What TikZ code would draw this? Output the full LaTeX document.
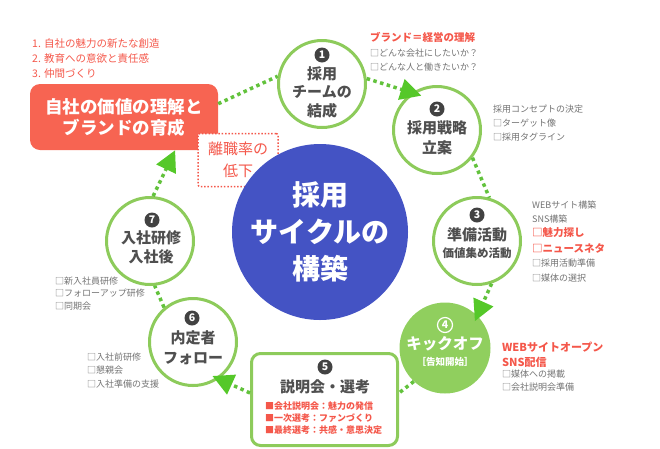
\documentclass[tikz,border=0pt]{standalone}
\usepackage{fontspec}
\setmainfont{Noto Sans CJK JP}
\usetikzlibrary{arrows.meta}
\definecolor{titlered}{HTML}{F76452}
\definecolor{textred}{HTML}{F4574A}
\definecolor{cycleblue}{HTML}{4453C4}
\definecolor{ringgreen}{HTML}{8DCB5B}
\definecolor{kickgreen}{HTML}{90CF5E}
\definecolor{dotgreen}{HTML}{62C23C}
\definecolor{arrowgreen}{HTML}{55C829}
\definecolor{labelgray}{HTML}{4F4F4F}
\definecolor{notegray}{HTML}{737373}
\definecolor{badgegray}{HTML}{424242}
\begin{document}
\begin{tikzpicture}[x=1pt, y=-1pt,
stage/.style={circle, draw=ringgreen, line width=3pt, minimum size=87pt, inner sep=0pt},
kickoff/.style={circle, fill=kickgreen, minimum size=91pt, inner sep=0pt},
stagebox/.style={rectangle, rounded corners=9pt, draw=ringgreen, line width=3pt, minimum width=146pt, minimum height=92pt},
stagetext/.style={align=center, inner sep=0pt, text=labelgray, font=\bfseries\fontsize{15}{20}\selectfont},
badge/.style={circle, fill=badgegray, text=white, inner sep=0pt, minimum size=15pt, font=\bfseries\fontsize{10.5}{10.5}\selectfont},
note/.style={anchor=base west, align=left, inner sep=0pt, text=notegray, font=\fontsize{9}{14}\selectfont},
notered/.style={note, text=textred, font=\bfseries\fontsize{10.5}{16}\selectfont},
link/.style={draw=dotgreen, line width=3.5pt, dash pattern=on 3.5pt off 3.5pt},
linkarrow/.style={link, -{Triangle[length=21pt, width=21pt, fill=arrowgreen, color=arrowgreen]}},
]
\useasboundingbox (0,0) rectangle (660,448);
\node[note, text=textred, font=\fontsize{10.5}{15}\selectfont] (goals) at (32,77.8) {1. 自社の魅力の新たな創造\\2. 教育への意欲と責任感\\3. 仲間づくり};
\node[rectangle, rounded corners=10pt, fill=titlered, minimum width=188pt, minimum height=66pt, align=center, text=white, font=\bfseries\fontsize{17.5}{21}\selectfont] (T) at (124,117) {自社の価値の理解と\\ブランドの育成};
\node[rectangle, rounded corners=2pt, fill=white, draw=textred, line width=1.5pt, dash pattern=on 1.5pt off 1.8pt, minimum width=80pt, minimum height=53pt, align=center, text=textred, font=\fontsize{15}{22}\selectfont] (R) at (238,160) {離職率の\\低下};
\node[circle, fill=cycleblue, minimum size=176pt, inner sep=0pt, align=center, text=white, font=\bfseries\fontsize{28}{37}\selectfont] (C) at (320,232) {採用\\サイクルの\\構築};

\node[stage] (S1) at (322,84) {};
\node[badge] (B1) at (322,55) {1};
\node[stagetext, font=\bfseries\fontsize{15}{18.5}\selectfont] (L1) at (322,92) {採用\\チームの\\結成};
\node[notered] (N1a) at (370,41.8) {ブランド＝経営の理解};
\node[note] (N1b) at (370,70.2) {□どんな会社にしたいか？\\□どんな人と働きたいか？};

\node[stage] (S2) at (437,130) {};
\node[badge] (B2) at (437,109) {2};
\node[stagetext] (L2) at (437,137.5) {採用戦略\\立案};
\node[note] (N2) at (493,140.2) {採用コンセプトの決定\\□ターゲット像\\□採用タグライン};

\node[stage] (S3) at (477,241) {};
\node[badge] (B3) at (477,215) {3};
\node[stagetext] (L3a) at (477,235) {準備活動};
\node[stagetext, font=\bfseries\fontsize{11.5}{14}\selectfont] (L3b) at (477,253) {価値集め活動};
\node[note] (N3a) at (532,222.2) {WEBサイト構築\\SNS構築};
\node[notered] (N3b) at (532,252.8) {□魅力探し\\□ニュースネタ};
\node[note, font=\fontsize{9}{15}\selectfont] (N3c) at (532,281.2) {□採用活動準備\\□媒体の選択};

\node[kickoff] (S4) at (445,348) {};
\node[badge, fill=none, draw=white, line width=1.2pt] (B4) at (445,325) {4};
\node[stagetext, text=white, font=\bfseries\fontsize{15.5}{20}\selectfont] (L4a) at (445,344) {キックオフ};
\node[stagetext, text=white, font=\bfseries\fontsize{9.5}{12}\selectfont] (L4b) at (445,361.5) {［告知開始］};
\node[notered, font=\bfseries\fontsize{11}{15}\selectfont] (N4a) at (502,366) {WEBサイトオープン\\SNS配信};
\node[note, font=\fontsize{9}{13}\selectfont] (N4b) at (502,390.2) {□媒体への掲載\\□会社説明会準備};

\node[stagebox] (S5) at (324.5,399.5) {};
\node[badge] (B5) at (325,367) {5};
\node[stagetext] (L5) at (325,387) {説明会・選考};
\node[notered, font=\bfseries\fontsize{9}{12}\selectfont] (N5) at (265,433.2) {■会社説明会：魅力の発信\\■一次選考：ファンづくり\\■最終選考：共感・意思決定};

\node[stage] (S6) at (193,342) {};
\node[badge] (B6) at (192,318) {6};
\node[stagetext, font=\bfseries\fontsize{15}{19.5}\selectfont] (L6) at (193,348) {内定者\\フォロー};
\node[note, font=\fontsize{9}{13.5}\selectfont] (N6) at (87,387.2) {□入社前研修\\□懇親会\\□入社準備の支援};

\node[stage] (S7) at (150,241) {};
\node[badge] (B7) at (152,220) {7};
\node[stagetext, font=\bfseries\fontsize{15}{19}\selectfont] (L7) at (151,247.5) {入社研修\\入社後};
\node[note, font=\fontsize{9}{12.5}\selectfont] (N7) at (55,309.2) {□新入社員研修\\□フォローアップ研修\\□同期会};

\draw[link] (T.8) -- (S1.170);
\draw[linkarrow, shorten >=-10pt] (S1.7) -- (S2.124);
\draw[link] (S2.-38) -- (S3.74);
\draw[linkarrow, shorten >=-6pt] (S3.-71) -- (S4.45);
\draw[link] (S4.-133) -- (S5.5);
\draw[linkarrow, shorten >=-7pt] (S5.175) -- (S6.-55);
\draw[link] (S6.130) -- (S7.-84);
\draw[linkarrow] (S7.86) -- (T.-33);
\end{tikzpicture}
\end{document}
